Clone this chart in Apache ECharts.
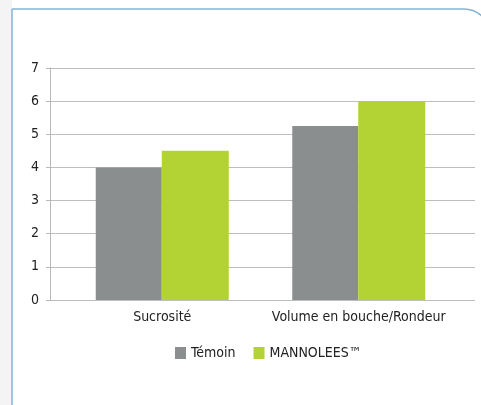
<!DOCTYPE html>
<html>
<head>
<meta charset="utf-8">
<script src="https://cdn.jsdelivr.net/npm/echarts@6/dist/echarts.min.js"></script>
<style>
html,body{margin:0;padding:0;background:#fff;}
#c{width:481px;height:405px;}
</style>
</head>
<body>
<div id="c"></div>
<script>
var categories = ['Sucrosité', 'Volume en bouche/Rondeur'];
var temoinValues = [4.0, 5.25];
var mannoleesValues = [4.5, 6.0];
var seriesNames = ['Témoin', 'MANNOLEES™'];
var yTicks = [0, 7, 1];

var FONT = '"DejaVu Sans Condensed", "Liberation Sans Narrow", sans-serif';
var chart = echarts.init(document.getElementById('c'), null, {renderer: 'canvas'});
chart.setOption({
  animation: false,
  backgroundColor: '#ffffff',
  textStyle: {fontFamily: FONT},
  graphic: [
    {type: 'rect', shape: {x: 0, y: 0, width: 12, height: 405}, style: {fill: '#f4f4f4'}, z: -10},
    {type: 'rect', shape: {x: 12, y: 9, width: 478, height: 500, r: [0, 26, 0, 0]},
     style: {fill: 'none', stroke: '#82b5d6', lineWidth: 1.5}, z: -5}
  ],
  legend: {
    left: 175, top: 346, padding: 0,
    itemWidth: 11, itemHeight: 12, itemGap: 18,
    icon: 'rect',
    textStyle: {fontFamily: FONT, fontSize: 14, color: '#222'},
    data: seriesNames
  },
  grid: [
    {left: 50, right: 6, top: 68, bottom: 105},
    {left: 64, right: 24, top: 68, bottom: 105}
  ],
  xAxis: [
    {gridIndex: 0, type: 'value', show: false, min: 0, max: 1},
    {gridIndex: 1, type: 'category', data: categories,
     axisLine: {show: false}, axisTick: {show: false},
     axisLabel: {fontFamily: FONT, fontSize: 14, color: '#222', margin: 10, interval: 0}}
  ],
  yAxis: [
    {gridIndex: 0, type: 'value', min: yTicks[0], max: yTicks[1], interval: yTicks[2],
     axisLine: {show: true, lineStyle: {color: '#b8b8b8', width: 1}},
     axisTick: {show: true, length: 4, lineStyle: {color: '#b8b8b8'}},
     splitLine: {show: true, lineStyle: {color: '#bdbdbd', width: 1}},
     axisLabel: {fontFamily: FONT, fontSize: 14, color: '#222', margin: 11}},
    {gridIndex: 1, type: 'value', min: yTicks[0], max: yTicks[1], show: false, splitLine: {show: false}}
  ],
  series: [
    {name: seriesNames[0], type: 'bar', xAxisIndex: 1, yAxisIndex: 1, data: temoinValues,
     barWidth: 66, barGap: '0%', itemStyle: {color: '#8b8e8f'}},
    {name: seriesNames[1], type: 'bar', xAxisIndex: 1, yAxisIndex: 1, data: mannoleesValues,
     barWidth: 67, barGap: '0%', itemStyle: {color: '#b3d334'}}
  ]
});
</script>
</body>
</html>
